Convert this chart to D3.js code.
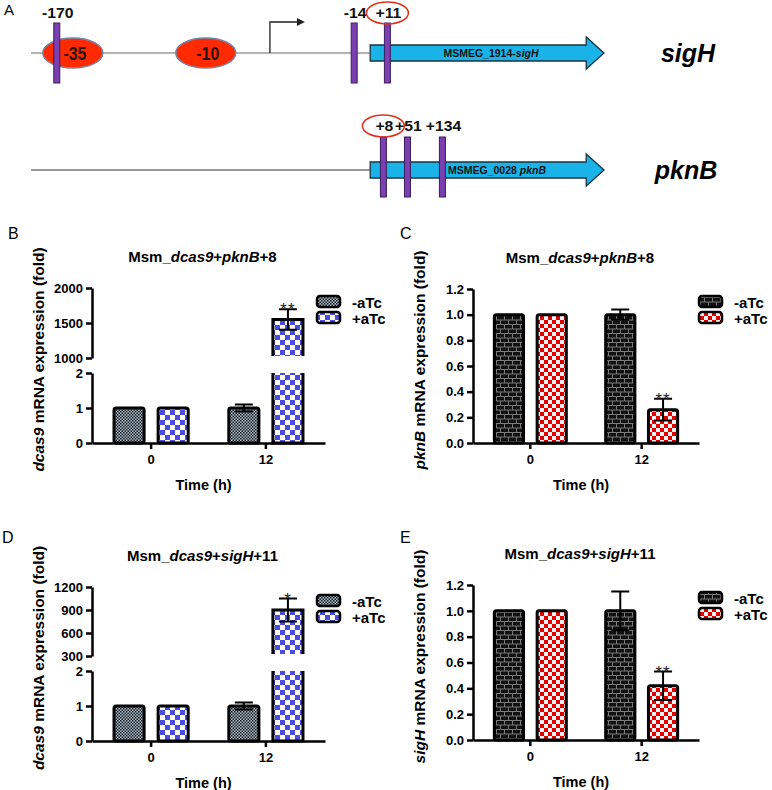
<!DOCTYPE html>
<html>
<head>
<meta charset="utf-8">
<script src="https://cdn.jsdelivr.net/npm/d3@7"></script>
<style>
  body { margin: 0; background: #fff; }
  svg { font-family: "Liberation Sans", Arial, sans-serif; }
</style>
</head>
<body>
<svg id="fig" width="772" height="790"></svg>
<script>
// ---- data ----
var times = ["0", "12"];
var series = ["-aTc", "+aTc"];

// B: dcas9 expression, Msm_dcas9+pknB+8
var bMinus = [1, 1], bMinusErr = [0, 0.1];
var bPlus = [1, 1550], bPlusErr = [0, 145];
// C: pknB expression
var cMinus = [1, 1], cMinusErr = [0, 0.04];
var cPlus = [1, 0.26], cPlusErr = [0, 0.085];
// D: dcas9 expression, Msm_dcas9+sigH+11
var dMinus = [1, 1], dMinusErr = [0, 0.1];
var dPlus = [1, 900], dPlusErr = [0, 150];
// E: sigH expression
var eMinus = [1, 1], eMinusErr = [0, 0.15];
var ePlus = [1, 0.42], ePlusErr = [0, 0.11];

var fracTicks = [0, 0.2, 0.4, 0.6, 0.8, 1.0, 1.2];

// schematic (A): positions in track units 0..100
var sigHBoxes = [{pos: 7.3, label: "-35"}, {pos: 30.5, label: "-10"}];
var sigHSites = [{pos: 4.5, label: "-170"}, {pos: 56.4, label: "-14"}, {pos: 62.2, label: "+11", chosen: true}];
var pknBSites = [{pos: 61.5, label: "+8", chosen: true}, {pos: 65.7, label: "+51"}, {pos: 71.8, label: "+134"}];

var svg = d3.select("#fig");
var defs = svg.append("defs");

// ---- fill patterns ----
function checker(id, size, bg, fg) {
  var p = defs.append("pattern").attr("id", id)
    .attr("patternUnits", "userSpaceOnUse")
    .attr("width", size * 2).attr("height", size * 2);
  p.append("rect").attr("width", size * 2).attr("height", size * 2).attr("fill", bg);
  p.append("rect").attr("width", size).attr("height", size).attr("fill", fg);
  p.append("rect").attr("x", size).attr("y", size).attr("width", size).attr("height", size).attr("fill", fg);
}
checker("fine", 1.5, "#b4c0ca", "#0e1820");
checker("blue", 5, "#ffffff", "#4a4ae4");
checker("red", 4, "#fff2f2", "#e00000");

var brick = defs.append("pattern").attr("id", "brick")
  .attr("patternUnits", "userSpaceOnUse").attr("width", 8).attr("height", 9);
brick.append("rect").attr("width", 8).attr("height", 9).attr("fill", "#111");
brick.append("path").attr("d", "M0,0.5H8M0,5H8M0.5,0V5M4.5,5V9")
  .attr("stroke", "#7a7a7a").attr("stroke-width", 1).attr("fill", "none");

// ---- panel A: schematic ----
var track = d3.scaleLinear().domain([0, 100]).range([31, 604]);
var geneStart = 59.2, headStart = 96.9, geneEnd = 100, tss = 41.7;

function label(g, x, y, str, size, sx, fill) {
  return g.append("text")
    .attr("transform", "translate(" + x + "," + y + ") scale(" + sx + ",1)")
    .attr("text-anchor", "middle")
    .attr("font-weight", "bold")
    .attr("font-size", size)
    .attr("fill", fill || "#111")
    .text(str);
}

function geneArrow(g, yc) {
  var x0 = track(geneStart), xh = track(headStart), x1 = track(geneEnd);
  g.append("path")
    .attr("d", "M" + x0 + "," + (yc - 8) + "H" + xh + "V" + (yc - 16) + "L" + x1 + "," + yc +
      "L" + xh + "," + (yc + 16) + "V" + (yc + 8) + "H" + x0 + "Z")
    .attr("fill", "#1ab3e8").attr("stroke", "#1b3340").attr("stroke-width", 1.3);
}

function sites(g, list, yc, up, down, labY) {
  list.forEach(function(s) {
    var x = track(s.pos);
    g.append("rect").attr("x", x - 3).attr("y", yc - up).attr("width", 6).attr("height", up + down)
      .attr("fill", "#7a3fb0").attr("stroke", "#3b1d5c").attr("stroke-width", 1);
    label(g, x + 1, labY, s.label, 15, 1.05);
    if (s.chosen) {
      g.append("ellipse").attr("cx", x).attr("cy", labY - 5).attr("rx", 21).attr("ry", 11)
        .attr("fill", "none").attr("stroke", "#e2311d").attr("stroke-width", 1.5);
    }
  });
}

var gA = svg.append("g");
gA.append("text").attr("x", 4).attr("y", 15).attr("font-size", 15).text("A");

// row 1: sigH
var y1 = 53;
gA.append("line").attr("x1", track(0)).attr("x2", track(geneStart)).attr("y1", y1).attr("y2", y1)
  .attr("stroke", "#9a9a9a").attr("stroke-width", 1.5);
gA.append("path").attr("d", "M" + track(tss) + "," + y1 + "V22H" + (track(tss) + 28))
  .attr("fill", "none").attr("stroke", "#222").attr("stroke-width", 1.3);
gA.append("path").attr("d", "M" + (track(tss) + 27) + ",18L" + (track(tss) + 35) + ",22L" + (track(tss) + 27) + ",26Z")
  .attr("fill", "#222");
sigHBoxes.forEach(function(b) {
  gA.append("ellipse").attr("cx", track(b.pos)).attr("cy", y1).attr("rx", 30).attr("ry", 15)
    .attr("fill", "#ff2a00").attr("stroke", "#7486a8").attr("stroke-width", 1.5);
  label(gA, track(b.pos) + 2, y1 + 6.5, b.label, 18, 0.88, "#2a1208");
});
geneArrow(gA, y1);
var tag1 = gA.append("text").attr("x", 491).attr("y", y1 + 4)
  .attr("text-anchor", "middle").attr("font-weight", "bold").attr("font-size", 10.5).attr("fill", "#111");
tag1.append("tspan").text("MSMEG_1914-");
tag1.append("tspan").attr("font-style", "italic").text("sigH");
sites(gA, sigHSites, y1, 30, 30, 18);
gA.append("text").attr("x", 688).attr("y", y1 + 9).attr("text-anchor", "middle")
  .attr("font-size", 25).attr("font-weight", "bold").attr("font-style", "italic").text("sigH");

// row 2: pknB
var y2 = 170;
gA.append("line").attr("x1", track(0)).attr("x2", track(geneStart)).attr("y1", y2).attr("y2", y2)
  .attr("stroke", "#333").attr("stroke-width", 1.2);
geneArrow(gA, y2);
var tag2 = gA.append("text").attr("x", 448).attr("y", y2 + 4)
  .attr("font-weight", "bold").attr("font-size", 10.5).attr("fill", "#111");
tag2.append("tspan").text("MSMEG_0028 ");
tag2.append("tspan").attr("font-style", "italic").text("pknB");
sites(gA, pknBSites, y2, 33, 27, 131);
gA.append("text").attr("x", 686).attr("y", y2 + 9).attr("text-anchor", "middle")
  .attr("font-size", 25).attr("font-weight", "bold").attr("font-style", "italic").text("pknB");

// ---- bar panels ----
var panels = [
  {label: "B", lx: 8, ly: 239, gene: "pknB", site: "+8", ylab: "dcas9",
   vals: [bMinus, bPlus], errs: [bMinusErr, bPlusErr], fills: ["fine", "blue"], sig: "**",
   left: 92, right: 325, base: 443, top: 288, broken: true, low: [0, 2], lowTicks: [0, 1, 2],
   high: [1000, 2000], highTicks: [1000, 1500, 2000], legX: 317, legY: 302},
  {label: "C", lx: 400, ly: 239, gene: "pknB", site: "+8", ylab: "pknB",
   vals: [cMinus, cPlus], errs: [cMinusErr, cPlusErr], fills: ["brick", "red"], sig: "**",
   left: 473, right: 699, base: 443, top: 289, broken: false, legX: 699, legY: 302},
  {label: "D", lx: 2, ly: 543, gene: "sigH", site: "+11", ylab: "dcas9",
   vals: [dMinus, dPlus], errs: [dMinusErr, dPlusErr], fills: ["fine", "blue"], sig: "*",
   left: 92, right: 325, base: 741, top: 587, broken: true, low: [0, 2], lowTicks: [0, 1, 2],
   high: [300, 1200], highTicks: [300, 600, 900, 1200], legX: 317, legY: 601},
  {label: "E", lx: 400, ly: 543, gene: "sigH", site: "+11", ylab: "sigH",
   vals: [eMinus, ePlus], errs: [eMinusErr, ePlusErr], fills: ["brick", "red"], sig: "**",
   left: 473, right: 699, base: 740, top: 585, broken: false, legX: 699, legY: 598}
];

function styleAxis(a) {
  a.select(".domain").attr("stroke", "#000").attr("stroke-width", 2.5);
  a.selectAll(".tick line").attr("stroke", "#000").attr("stroke-width", 2.5);
  a.selectAll(".tick text").attr("font-size", 13).attr("font-weight", "bold")
    .attr("fill", "#000").attr("font-family", "Liberation Sans, Arial, sans-serif");
}

panels.forEach(function(p) {
  var g = svg.append("g");
  g.append("text").attr("x", p.lx).attr("y", p.ly).attr("font-size", 16).text(p.label);

  // title
  var cx = (p.left + p.right) / 2 - 6;
  var t = g.append("text").attr("x", cx).attr("y", p.top - 26).attr("text-anchor", "middle")
    .attr("font-size", 15).attr("font-weight", "bold");
  t.append("tspan").text("Msm_");
  t.append("tspan").attr("font-style", "italic").text("dcas9");
  t.append("tspan").text("+");
  t.append("tspan").attr("font-style", "italic").text(p.gene);
  t.append("tspan").text(p.site);

  var x0 = d3.scaleBand().domain(times).range([p.left, p.right]).paddingInner(0.2).paddingOuter(0.115);
  var x1 = d3.scaleBand().domain(series).range([0, x0.bandwidth()]).paddingInner(0.318).paddingOuter(0.2);

  var yLow, yHigh, yOf;
  if (p.broken) {
    yLow = d3.scaleLinear().domain(p.low).range([p.base, p.base - 70]);
    yHigh = d3.scaleLinear().domain(p.high).range([p.base - 85, p.top]);
    yOf = function(v) { return v > p.low[1] ? yHigh(v) : yLow(v); };
    var aL = g.append("g").attr("transform", "translate(" + p.left + ",0)")
      .call(d3.axisLeft(yLow).tickValues(p.lowTicks).tickSize(6).tickSizeOuter(0).tickFormat(d3.format("d")));
    var aH = g.append("g").attr("transform", "translate(" + p.left + ",0)")
      .call(d3.axisLeft(yHigh).tickValues(p.highTicks).tickSize(6).tickSizeOuter(0).tickFormat(d3.format("d")));
    styleAxis(aL); styleAxis(aH);
  } else {
    yLow = d3.scaleLinear().domain([0, 1.2]).range([p.base, p.top]);
    yOf = yLow;
    var aY = g.append("g").attr("transform", "translate(" + p.left + ",0)")
      .call(d3.axisLeft(yLow).tickValues(fracTicks).tickSize(6).tickSizeOuter(0).tickFormat(d3.format(".1f")));
    styleAxis(aY);
  }

  // bars
  series.forEach(function(s, si) {
    var vals = p.vals[si], errs = p.errs[si];
    times.forEach(function(tm, ti) {
      var v = vals[ti], e = errs[ti];
      var bx = x0(tm) + x1(s), bw = x1.bandwidth();
      var fill = "url(#" + p.fills[si] + ")";
      if (p.broken && v > p.low[1]) {
        var lt = yLow(p.low[1]);
        g.append("rect").attr("x", bx).attr("y", lt).attr("width", bw).attr("height", p.base - lt).attr("fill", fill);
        g.append("path").attr("d", "M" + bx + "," + lt + "V" + p.base + "H" + (bx + bw) + "V" + lt)
          .attr("fill", "none").attr("stroke", "#000").attr("stroke-width", 3);
        var ub = yHigh(p.high[0]) - 2, ut = yHigh(v);
        g.append("rect").attr("x", bx).attr("y", ut).attr("width", bw).attr("height", ub - ut).attr("fill", fill);
        g.append("path").attr("d", "M" + bx + "," + ub + "V" + ut + "H" + (bx + bw) + "V" + ub)
          .attr("fill", "none").attr("stroke", "#000").attr("stroke-width", 3);
      } else {
        g.append("rect").attr("x", bx).attr("y", yOf(v)).attr("width", bw).attr("height", p.base - yOf(v))
          .attr("rx", 2).attr("fill", fill).attr("stroke", "#000").attr("stroke-width", 3);
      }
      if (e > 0) {
        var ex = bx + bw / 2, yt = yOf(v + e), yb = yOf(v - e);
        g.append("path").attr("d", "M" + ex + "," + yb + "V" + yt + "M" + (ex - 9) + "," + yt + "H" + (ex + 9) +
          "M" + (ex - 9) + "," + yb + "H" + (ex + 9))
          .attr("fill", "none").attr("stroke", "#000").attr("stroke-width", 2);
        if (si === 1) {
          g.append("text").attr("x", ex).attr("y", yt + 6).attr("text-anchor", "middle")
            .attr("font-size", 17).attr("letter-spacing", 1).attr("fill", "#222").text(p.sig);
        }
      }
    });
  });

  // x axis
  var aX = g.append("g").attr("transform", "translate(0," + p.base + ")")
    .call(d3.axisBottom(x0).tickSize(6).tickSizeOuter(0).tickPadding(6));
  styleAxis(aX);
  g.append("text").attr("x", (p.left + p.right) / 2 - 5).attr("y", p.base + 47).attr("text-anchor", "middle")
    .attr("font-size", 14.5).attr("font-weight", "bold").text("Time (h)");

  // y label
  var yl = g.append("text")
    .attr("transform", "translate(" + (p.left - 48) + "," + ((p.base + p.top) / 2 - 6) + ") rotate(-90)")
    .attr("text-anchor", "middle").attr("font-size", 15.5).attr("font-weight", "bold");
  yl.append("tspan").attr("font-style", "italic").text(p.ylab);
  yl.append("tspan").text(" mRNA expression (fold)");

  // legend
  series.forEach(function(s, si) {
    var ly = p.legY + si * 16;
    g.append("rect").attr("x", p.legX).attr("y", ly - 6).attr("width", 23).attr("height", 11).attr("rx", 3)
      .attr("fill", "url(#" + p.fills[si] + ")").attr("stroke", "#000").attr("stroke-width", 2.5);
    g.append("text").attr("x", p.legX + 35).attr("y", ly + 5.5).attr("font-size", 15).attr("font-weight", "bold").text(s);
  });
});
</script>
</body>
</html>
